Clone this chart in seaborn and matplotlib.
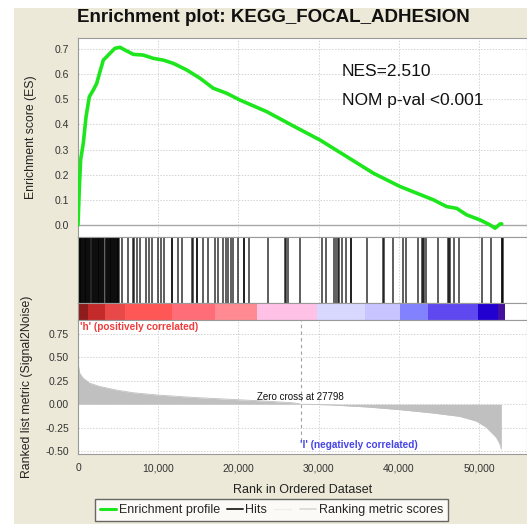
import numpy as np
import pandas as pd
import matplotlib
matplotlib.use("Agg")
import matplotlib.pyplot as plt
from matplotlib.patches import Rectangle
from matplotlib.lines import Line2D
from matplotlib.ticker import FuncFormatter
import seaborn as sns

# ---------------- data ----------------
title = "Enrichment plot: KEGG_FOCAL_ADHESION"
nes_text = "NES=2.510"
pval_text = "NOM p-val <0.001"
zero_cross = 27798

es_rank = [0, 170, 330, 660, 1000, 1410, 1910, 2330, 2740, 3160, 3990, 4610, 5240, 5860,
           6900, 8140, 9390, 10640, 11890, 13550, 15210, 16870, 18540, 20200, 23530,
           26850, 30180, 33510, 36830, 40160, 44320, 45980, 47230, 48480, 50140, 51390,
           52020, 52640, 52850]
es_value = [0.0, 0.152, 0.26, 0.325, 0.43, 0.51, 0.537, 0.563, 0.61, 0.656, 0.683, 0.703,
            0.707, 0.696, 0.679, 0.676, 0.663, 0.656, 0.643, 0.617, 0.584, 0.544, 0.524,
            0.497, 0.451, 0.394, 0.338, 0.272, 0.206, 0.153, 0.10, 0.073, 0.066, 0.04,
            0.02, 0.0, -0.013, 0.004, 0.004]

hit_ranks = [0, 40, 90, 150, 210, 280, 350, 420, 500, 580, 660, 740, 820, 900, 980, 1060,
             1140, 1220, 1300, 1380, 1460, 1540, 1720, 1800, 1880, 1960, 2040, 2120, 2200,
             2280, 2360, 2440, 2520, 2600, 2680, 2760, 2840, 2920, 3000, 3080, 3160, 3240,
             3450, 3530, 3610, 3690, 3770, 3850, 3930, 4010, 4090, 4170, 4250, 4330, 4410,
             4490, 4570, 4650, 4730, 4810, 4890, 4970, 5050, 5130,
             5450, 6270, 6900, 6950, 7320, 7730, 8440, 8850, 9270, 9940, 10350, 10760,
             11680, 11730, 12510, 12930, 14180, 14380, 14800, 14850, 15620, 16250, 17080,
             17500, 18120, 18460, 18740, 19040, 19370, 19990, 20700, 20750, 21360, 23730,
             25810, 26000, 26190, 27680, 30390, 30920, 31920, 32170, 32460, 32510, 32880,
             33420, 34000, 34050, 36000, 38070, 38120, 39320, 40570, 40860, 42360, 42860,
             43060, 43110, 43360, 44850, 46180, 46230, 46380, 46920, 47550, 50420, 51500,
             52840, 52890, 53000]

metric_rank = [0, 210, 620, 1450, 2700, 4780, 6860, 9980, 13100, 15180, 19340, 23490,
               26820, 27440, 27798, 29310, 31390, 35960, 40120, 44270, 47600, 49680,
               50930, 52170, 52590, 52800]
metric_value = [0.44, 0.33, 0.28, 0.225, 0.19, 0.152, 0.123, 0.098, 0.08, 0.069, 0.051,
                0.033, 0.015, 0.007, 0.0, -0.002, -0.007, -0.029, -0.058, -0.094, -0.13,
                -0.18, -0.246, -0.355, -0.42, -0.48]

band_start = [0, 1250, 3370, 5860, 11720, 17080, 22320, 29800, 35790, 40150, 43650, 49880, 52370]
band_end = [1250, 3370, 5860, 11720, 17080, 22320, 29800, 35790, 40150, 43650, 49880, 52370, 53240]
band_color = ["#8e1c1c", "#c42a2a", "#e84848", "#ff5656", "#ff6d78", "#ff8a92", "#ffc2e6",
              "#d8d8ff", "#c8c4ff", "#8282ff", "#6048f0", "#2200d0", "#4410a0"]

x_ticks = [0, 10000, 20000, 30000, 40000, 50000]
es_ticks = [0.0, 0.1, 0.2, 0.3, 0.4, 0.5, 0.6, 0.7]
metric_ticks = [-0.5, -0.25, 0.0, 0.25, 0.5, 0.75]

# ---------------- style ----------------
sns.set_style("white")
plt.rcParams["font.family"] = ["Liberation Sans", "DejaVu Sans"]

W, H = 527, 524
fig = plt.figure(figsize=(W / 100, H / 100), dpi=100)
fig.patch.set_facecolor("white")
fig.patches.append(Rectangle((14 / W, 0), 1, 1 - 8 / H, transform=fig.transFigure,
                             facecolor="#ece9d8", edgecolor="none", zorder=-10))

def ax_at(top_px, bottom_px):
    left = 78 / W
    return fig.add_axes([left, 1 - bottom_px / H, 1 - left, (bottom_px - top_px) / H])

ax_es = ax_at(38, 237)
ax_hits = ax_at(237, 303)
ax_cb = ax_at(303, 320)
ax_rk = ax_at(320, 454)

XMAX = 56000
spine_col = "#9a9a9a"
grid_kw = dict(color="#d4d4d4", linestyle=(0, (1.5, 1.5)), linewidth=0.7)

for ax in (ax_es, ax_hits, ax_cb, ax_rk):
    ax.set_xlim(0, XMAX)
    ax.set_facecolor("white")
    for s in ax.spines.values():
        s.set_color(spine_col)
        s.set_linewidth(0.8)
    ax.tick_params(labelsize=7.5, colors="#333333", length=3, width=0.6, direction="out")

# ES panel
for xt in x_ticks:
    ax_es.axvline(xt, zorder=0, **grid_kw)
for yt in es_ticks[1:]:
    ax_es.axhline(yt, zorder=0, **grid_kw)
ax_es.axhline(0, color="#a8a8a8", linewidth=1.0, zorder=1)
es_df = pd.DataFrame({"rank": es_rank, "es": es_value})
sns.lineplot(data=es_df, x="rank", y="es", ax=ax_es, color="#1de61d", linewidth=2.6,
             sort=False, zorder=3)
ax_es.set_ylim(-0.048, 0.744)
ax_es.set_yticks(es_ticks)
ax_es.set_yticklabels([f"{v:.1f}" for v in es_ticks])
ax_es.set_xticks([])
ax_es.set_xlabel("")
ax_es.set_ylabel("Enrichment score (ES)", fontsize=8.8, color="#222222")
ax_es.yaxis.set_label_coords(-0.091, 0.5)
ax_es.text(0.588, 0.834, nes_text, transform=ax_es.transAxes, fontsize=12.5,
           ha="left", va="center", color="#111111")
ax_es.text(0.588, 0.688, pval_text, transform=ax_es.transAxes, fontsize=12.5,
           ha="left", va="center", color="#111111")

# hits panel
for xt in x_ticks:
    ax_hits.axvline(xt, zorder=0, **grid_kw)
sns.rugplot(x=hit_ranks, ax=ax_hits, height=1, color="black", linewidth=1.1,
            expand_margins=False, alpha=0.8)
ax_hits.set_ylim(0, 1)
ax_hits.set_xticks([])
ax_hits.set_yticks([])
ax_hits.set_xlim(0, XMAX)

# colour band
widths = [e - s for s, e in zip(band_start, band_end)]
ax_cb.bar(band_start, [1] * len(band_start), width=widths, align="edge",
          color=band_color, linewidth=0)
ax_cb.set_ylim(0, 1)
ax_cb.set_xticks([])
ax_cb.set_yticks([])
ax_cb.set_xlim(0, XMAX)

# ranked metric panel
for xt in x_ticks:
    ax_rk.axvline(xt, zorder=0, **grid_kw)
for yt in metric_ticks:
    ax_rk.axhline(yt, zorder=0, **grid_kw)
ax_rk.fill_between(metric_rank, metric_value, 0, color="#c0c0c0", linewidth=0, zorder=2)
rk_df = pd.DataFrame({"rank": metric_rank, "metric": metric_value})
sns.lineplot(data=rk_df, x="rank", y="metric", ax=ax_rk, color="#c0c0c0", linewidth=0.6,
             sort=False, zorder=2)
ax_rk.plot([zero_cross, zero_cross], [-0.39, 0.9], color="#a0a0a0", linestyle=(0, (3, 3)),
           linewidth=0.8, zorder=3)
ax_rk.set_ylim(-0.532, 0.90)
ax_rk.set_yticks(metric_ticks)
ax_rk.yaxis.set_major_formatter(FuncFormatter(lambda v, p: f"{v:.2f}"))
ax_rk.set_xticks(x_ticks)
ax_rk.xaxis.set_major_formatter(FuncFormatter(lambda v, p: f"{int(v):,}"))
ax_rk.set_xlim(0, XMAX)
ax_rk.set_xlabel("Rank in Ordered Dataset", fontsize=9, color="#222222")
ax_rk.xaxis.set_label_coords(0.5, -0.224)
ax_rk.set_ylabel("Ranked list metric (Signal2Noise)", fontsize=8.8, color="#222222")
ax_rk.yaxis.set_label_coords(-0.100, 0.5)
ax_rk.text(0.004, 0.948, "'h' (positively correlated)", transform=ax_rk.transAxes,
           fontsize=7.2, fontweight="bold", color="#f03c3c", ha="left", va="center")
ax_rk.text(22320, 0.077, f"Zero cross at {zero_cross}", fontsize=7, color="#111111",
           ha="left", va="center")
ax_rk.text(27680, -0.436, "'l' (negatively correlated)", fontsize=7.2, fontweight="bold",
           color="#4646e6", ha="left", va="center")

# title
fig.text(273 / W, 1 - 18 / H, title, ha="center", va="center", fontsize=13.5,
         fontweight="bold", color="#111111")

# legend
handles = [Line2D([], [], color="#1de61d", linewidth=2.2),
           Line2D([], [], color="#333333", linewidth=1.4),
           Line2D([], [], color="#eeeeee", linewidth=1.0),
           Line2D([], [], color="#d8d8d8", linewidth=1.2)]
labels = ["Enrichment profile", "Hits", "", "Ranking metric scores"]
leg = fig.legend(handles, labels, loc="upper left", bbox_to_anchor=(95 / W, 1 - 499 / H),
                 ncol=4, frameon=True, fancybox=False, fontsize=9, handlelength=1.3,
                 handletextpad=0.2, columnspacing=0.55, borderpad=0.4, borderaxespad=0)
leg.get_frame().set_edgecolor("#444444")
leg.get_frame().set_linewidth(1.0)

fig.savefig("out.png", dpi=100)
